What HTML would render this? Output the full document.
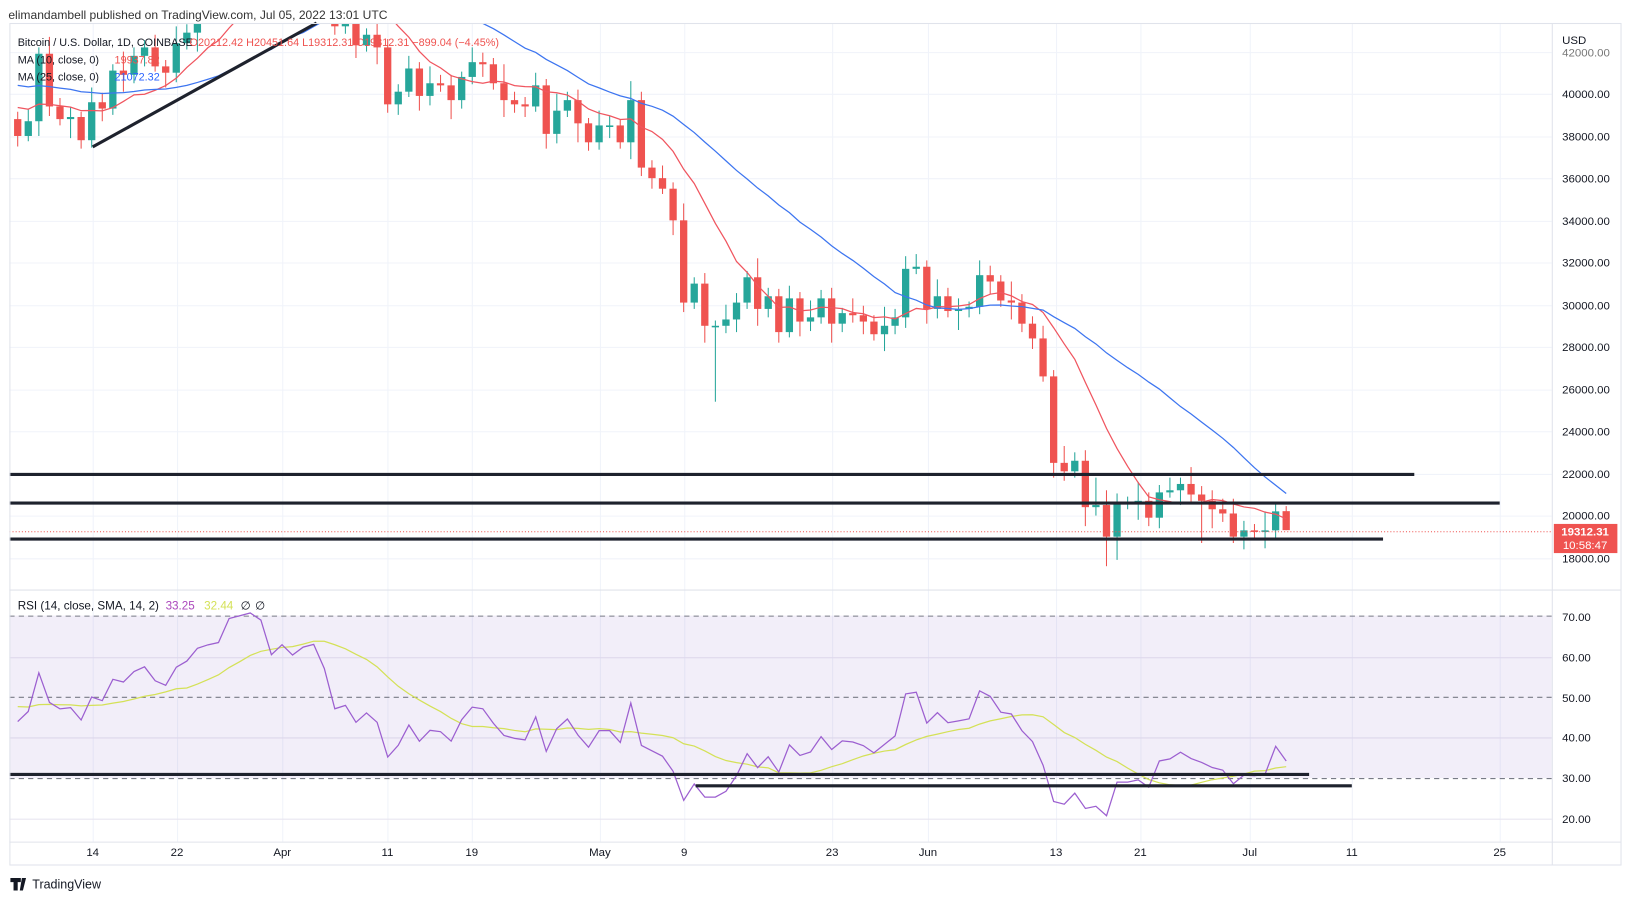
<!DOCTYPE html>
<html><head><meta charset="utf-8"><style>
html,body{margin:0;padding:0;background:#fff;}
svg{display:block;font-family:"Liberation Sans",sans-serif;}
</style></head><body>
<svg id="s" width="1633" height="901" viewBox="0 0 1568 865" xmlns="http://www.w3.org/2000/svg">
<rect width="1568" height="865" fill="#fff"/>
<text x="8" y="18" font-size="11.6" fill="#333">elimandambell published on TradingView.com, Jul 05, 2022 13:01 UTC</text>
<g id="grid"></g>
<rect x="9" y="591" width="1481" height="156" fill="rgba(126,87,194,0.1)"/>
<g stroke="#787b86" stroke-dasharray="5,4" stroke-width="1">
<line x1="9" x2="1490" y1="591.5" y2="591.5"/><line x1="9" x2="1490" y1="669.5" y2="669.5"/><line x1="9" x2="1490" y1="747.5" y2="747.5"/>
</g>
<g id="price"></g>
<g id="rsi"></g>
<g stroke="#1e222d" stroke-width="3" stroke-linecap="butt">
<line x1="9" y1="455.5" x2="1358" y2="455.5"/>
<line x1="9" y1="483" x2="1440" y2="483"/>
<line x1="9" y1="517.5" x2="1328" y2="517.5"/>
<line x1="89" y1="141" x2="304" y2="22"/>
<line x1="9" y1="743.5" x2="1257" y2="743.5"/>
<line x1="668" y1="754.5" x2="1298" y2="754.5"/>
</g>
<line x1="9" x2="1490" y1="510.5" y2="510.5" stroke="#ef5350" stroke-dasharray="1,2"/>
<g stroke="#e0e3eb" stroke-width="1" fill="none">
<rect x="9.5" y="22.5" width="1547" height="808"/>
<line x1="1490.5" y1="22" x2="1490.5" y2="831"/>
<line x1="9" y1="566.5" x2="1557" y2="566.5"/>
<line x1="9" y1="808.5" x2="1557" y2="808.5"/>
</g>
<rect x="1492" y="503" width="61" height="28" fill="#ef5350"/>
<text x="1522" y="514" font-size="11" fill="#fff" text-anchor="middle" font-weight="bold">19312.31</text>
<text x="1522" y="527" font-size="11" fill="#fff" text-anchor="middle">10:58:47</text>
<g font-size="11" fill="#131722">
<text x="1500" y="42">USD</text>
<text x="1500" y="54" fill="#777">42000.00</text>
<text x="1500" y="94">40000.00</text><text x="1500" y="135">38000.00</text><text x="1500" y="175">36000.00</text>
<text x="1500" y="216">34000.00</text><text x="1500" y="256">32000.00</text><text x="1500" y="297">30000.00</text>
<text x="1500" y="337">28000.00</text><text x="1500" y="378">26000.00</text><text x="1500" y="418">24000.00</text>
<text x="1500" y="459">22000.00</text><text x="1500" y="499">20000.00</text><text x="1500" y="540">18000.00</text>
<text x="1500" y="596">70.00</text><text x="1500" y="635">60.00</text><text x="1500" y="674">50.00</text>
<text x="1500" y="712">40.00</text><text x="1500" y="751">30.00</text><text x="1500" y="790">20.00</text>
</g>
<g font-size="11" fill="#131722" text-anchor="middle">
<text x="89" y="822">14</text><text x="170" y="822">22</text><text x="271" y="822">Apr</text><text x="372" y="822">11</text>
<text x="453" y="822">19</text><text x="576" y="822">May</text><text x="657" y="822">9</text><text x="799" y="822">23</text>
<text x="891" y="822">Jun</text><text x="1014" y="822">13</text><text x="1095" y="822">21</text><text x="1200" y="822">Jul</text>
<text x="1298" y="822">11</text><text x="1440" y="822">25</text>
</g>
<g font-size="10.4" fill="#131722">
<text x="17" y="44">Bitcoin / U.S. Dollar, 1D, COINBASE</text>
<text x="182" y="44" fill="#ef5350">O20212.42  H20451.64  L19312.31  C19312.31  −899.04 (−4.45%)</text>
<text x="17" y="61">MA (10, close, 0)</text><text x="110" y="61" fill="#ef5350">19937.82</text>
<text x="17" y="77">MA (25, close, 0)</text><text x="110" y="77" fill="#2962ff">21072.32</text>
</g>
<g font-size="11.2" fill="#131722">
<text x="17" y="585">RSI (14, close, SMA, 14, 2)</text>
<text x="159" y="585" fill="#ab47bc">33.25</text>
<text x="196" y="585" fill="#d4e157">32.44</text>
<text x="231" y="585">∅</text><text x="245" y="585">∅</text>
</g>
<path d="M10 843h10v4h-3v8h-4v-8h-3z M21 843h4l-3 12h-3z" fill="#131722"/>
<text x="31" y="853" font-size="12" fill="#131722">TradingView</text>
</svg>
<script>
var C=[38.0,38.7,41.9,39.4,38.8,38.9,37.8,39.6,39.3,41.1,40.9,41.8,42.2,41.3,41.0,42.4,42.9,44.0,44.3,44.5,46.8,47.1,47.4,47.1,45.5,
46.3,45.8,46.4,46.6,45.5,43.2,43.4,42.3,42.8,42.2,39.5,40.1,41.2,39.9,40.5,40.4,39.7,40.8,41.5,41.4,40.5,39.7,39.5,39.4,40.4,38.1,39.2,39.7,38.6,37.7,
38.5,38.5,37.7,39.7,36.5,36.0,35.5,34.0,30.1,31.0,29.0,29.0,29.3,30.1,31.3,29.8,30.4,28.7,30.3,29.2,29.4,30.3,29.1,29.6,29.5,29.2,28.6,29.0,29.4,31.7,31.8,
29.8,30.4,29.7,29.8,29.9,31.4,31.1,30.2,30.1,29.1,28.4,26.6,22.5,22.1,22.6,20.4,20.5,19.0,20.6,20.6,20.7,19.9,21.1,21.2,21.5,21.0,20.7,20.3,20.1,19.0,
19.3,19.25,19.3,20.2,19.31];
var NS="http://www.w3.org/2000/svg";
function el(p,t,a){var e=document.createElementNS(NS,t);for(var k in a)e.setAttribute(k,a[k]);p.appendChild(e);return e;}
function X(i){return 17+i*10.15;}
function Y(p){return 495-(p*1000-20000)*0.02025;}
function R(v){return 747-(v-30)*3.875;}
var g=document.getElementById('grid');
[89,170,271,372,453,576,657,799,891,1014,1095,1200,1298,1440].forEach(function(x){el(g,'line',{x1:x+.5,x2:x+.5,y1:22,y2:808,stroke:'#f0f3fa'});});
for(var p=18;p<=42;p+=2){var y=Math.round(Y(p))+.5;el(g,'line',{x1:9,x2:1490,y1:y,y2:y,stroke:'#f0f3fa'});}
[60,40,20].forEach(function(v){var y=Math.round(R(v))+.5;el(g,'line',{x1:9,x2:1490,y1:y,y2:y,stroke:'#e8e6f0'});});
var pg=document.getElementById('price');
var cp=el(el(pg,'defs',{}),'clipPath',{id:'cp'});el(cp,'rect',{x:9,y:22,width:1481,height:544});
var pc=el(pg,'g',{'clip-path':'url(#cp)'});
var wk=[.35,.6,.3,.8,.4,.5,.25,.7,.45,.3,.9,.4];
var lowO={66:25.4,65:28.2,103:17.6,104:17.9,112:18.7,115:18.7};
var hiO={64:31.3,65:31.5,84:32.3,100:23.0,102:21.8,114:20.8};
for(var i=0;i<C.length;i++){
 var o=i?C[i-1]:38.8,c=C[i];if(i==120)o=20.21;
 var h=Math.max(o,c)+wk[i%12],l=Math.min(o,c)-wk[(i+5)%12];
 if(lowO[i])l=lowO[i];if(hiO[i])h=hiO[i];if(i==120){h=20.45;l=19.31;}
 var col=c>=o?'#26a69a':'#ef5350',x=X(i);
 el(pc,'line',{x1:x,x2:x,y1:Y(h),y2:Y(l),stroke:col,'stroke-width':1});
 var yt=Y(Math.max(o,c)),yb=Y(Math.min(o,c));
 el(pc,'rect',{x:x-3.5,y:yt,width:7,height:Math.max(1.5,yb-yt),fill:col});
}
function ma(n,pad){var pts=[];for(var i=0;i<C.length;i++){var s=0;for(var j=i-n+1;j<=i;j++)s+=j<0?pad:C[j];pts.push(X(i).toFixed(1)+','+Y(s/n).toFixed(1));}return pts.join(' ');}
el(pc,'polyline',{points:ma(10,39.5),fill:'none',stroke:'#f0555f','stroke-width':1.2});
el(pc,'polyline',{points:ma(25,40.5),fill:'none',stroke:'#3d75f0','stroke-width':1.2});
var ag=0.55,al=0.7,rs=[];
for(var i=0;i<C.length;i++){var d=i?C[i]-C[i-1]:0;ag=(ag*13+Math.max(d,0))/14;al=(al*13+Math.max(-d,0))/14;rs.push(100-100/(1+ag/al));}
var rg=document.getElementById('rsi'),p1=[],p2=[];
for(var i=0;i<rs.length;i++){p1.push(X(i).toFixed(1)+','+R(rs[i]).toFixed(1));var s=0,n=0;for(var j=Math.max(0,i-13);j<=i;j++){s+=rs[j];n++;}var sm=(s+(14-n)*48)/14;p2.push(X(i).toFixed(1)+','+R(sm).toFixed(1));}
el(rg,'polyline',{points:p2.join(' '),fill:'none',stroke:'#d4e157','stroke-width':1.2});
el(rg,'polyline',{points:p1.join(' '),fill:'none',stroke:'#9c5fd0','stroke-width':1.2});
</script>
</body></html>
